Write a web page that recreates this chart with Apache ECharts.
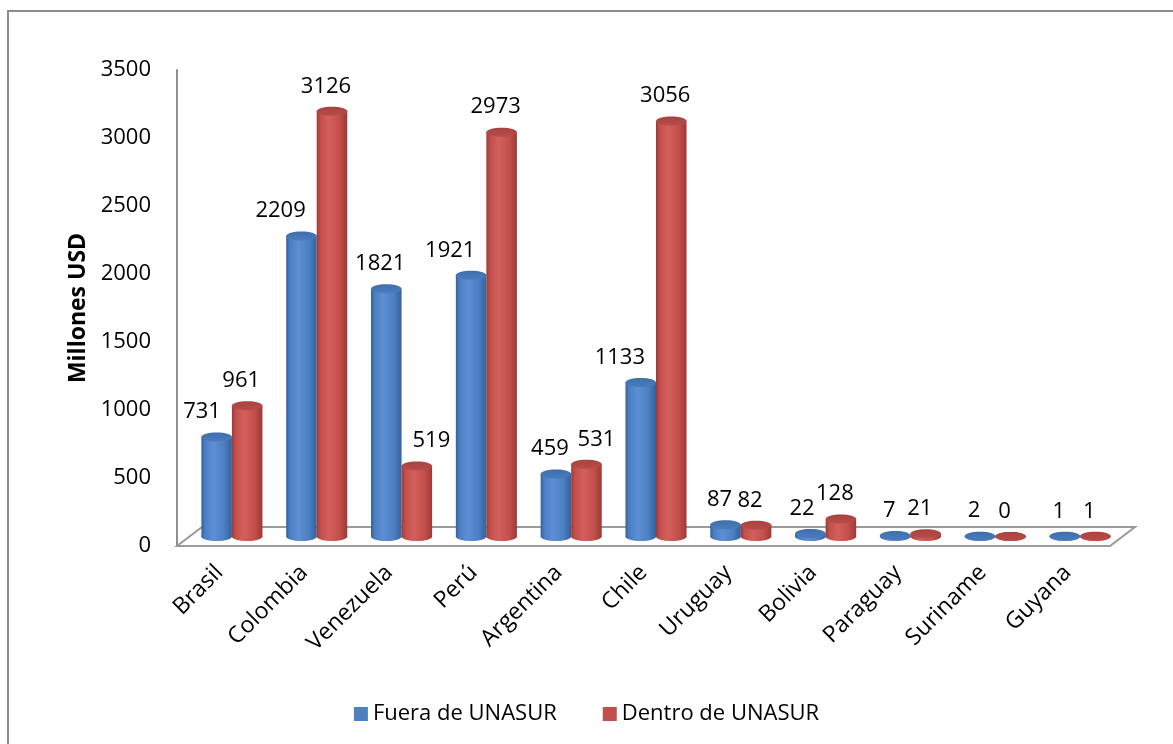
<!DOCTYPE html>
<html>
<head>
<meta charset="utf-8">
<script src="https://cdn.jsdelivr.net/npm/echarts@6/dist/echarts.min.js"></script>
<style>
  html, body { margin: 0; padding: 0; background: #fff; }
  #chart { width: 1173px; height: 744px; }
</style>
</head>
<body>
<div id="chart"></div>
<script>
// Inversión por país, millones de USD
const countries = ['Brasil', 'Colombia', 'Venezuela', 'Perú', 'Argentina', 'Chile',
                   'Uruguay', 'Bolivia', 'Paraguay', 'Suriname', 'Guyana'];
const fueraUnasur  = [731, 2209, 1821, 1921, 459, 1133, 87, 22, 7, 2, 1];
const dentroUnasur = [961, 3126, 519, 2973, 531, 3056, 82, 128, 21, 0, 1];
const seriesNames = ['Fuera de UNASUR', 'Dentro de UNASUR'];
const yMin = 0, yMax = 3500, yInterval = 500;
const yTitle = 'Millones USD';

// ---- drawing constants ----
const FONT = '"Open Sans", "Noto Sans", sans-serif';
const LABEL_SIZE = 22;
const BAR_RATIO = 0.36;      // width of one cylinder relative to the category band
const CAP_RY = 4.5;          // half height of the elliptical caps
const LABEL_DY = 25;         // label centre above the top cap
const LABEL_DX = -6;         // perspective shift of labels
const LABEL_GAP = 11;        // clearance when a label is pushed aside
const DEPTH_X = 25, DEPTH_Y = -19; // floor depth
const values = [fueraUnasur, dentroUnasur];
const seriesColors = ['#4f81bd', '#c0504d'];

const palettes = [
  { dark: '#33619c', light: '#5c8fd4', mid: '#4c7ec2', top: ['#3f6eab', '#4a7cbd'] },
  { dark: '#9c3936', light: '#d4605c', mid: '#c24f4b', top: ['#a9423f', '#b84d49'] }
];

const measureCtx = document.createElement('canvas').getContext('2d');
function textWidth(t) {
  measureCtx.font = LABEL_SIZE + 'px ' + FONT;
  return measureCtx.measureText(t).width;
}

// Label placement for one category: default above each cylinder,
// pushed sideways when it would run into the neighbouring cylinder or label.
function labelPositions(api, i) {
  const band = api.size([1, 0])[0];
  const bw = band * BAR_RATIO;
  const base = api.coord([i, 0]);
  const cBlue = base[0] - bw / 2, cRed = base[0] + bw / 2;
  const vb = fueraUnasur[i], vr = dentroUnasur[i];
  const tb = api.coord([i, vb])[1], tr = api.coord([i, vr])[1];
  const wb = textWidth(String(vb)), wr = textWidth(String(vr));
  const h = LABEL_SIZE;
  let xb = cBlue + LABEL_DX, yb = tb - LABEL_DY;
  let xr = cRed + LABEL_DX, yr = tr - LABEL_DY;
  // blue label against the red cylinder
  if (tr < yb + h / 2 && xb + wb / 2 > cRed - bw / 2 - LABEL_GAP) {
    xb = cRed - bw / 2 - LABEL_GAP - wb / 2;
  }
  // red label against the blue cylinder
  if (tb < yr + h / 2 && xr - wr / 2 < cBlue + bw / 2 + LABEL_GAP) {
    xr = cBlue + bw / 2 + LABEL_GAP + wr / 2;
  }
  // red label against the blue label
  if (Math.abs(yr - yb) < h && xr - wr / 2 < xb + wb / 2) {
    xr = xb + wb / 2 + LABEL_GAP * 0.8 + wr / 2;
  }
  return [[xb, yb], [xr, yr]];
}

function cylinderRenderer(s) {
  const p = palettes[s];
  return function (params, api) {
    const i = api.value(0);
    const v = api.value(1);
    const band = api.size([1, 0])[0];
    const bw = band * BAR_RATIO;
    const base = api.coord([i, 0]);
    const cx = base[0] + (s === 0 ? -bw / 2 : bw / 2);
    const yBase = base[1];
    const yTop = api.coord([i, v])[1];
    const bodyFill = new echarts.graphic.LinearGradient(0, 0, 1, 0, [
      { offset: 0, color: p.dark },
      { offset: 0.12, color: p.mid },
      { offset: 0.4, color: p.light },
      { offset: 0.75, color: p.mid },
      { offset: 1, color: p.dark }
    ]);
    const topFill = new echarts.graphic.LinearGradient(0, 0, 0, 1, [
      { offset: 0, color: p.top[0] },
      { offset: 1, color: p.top[1] }
    ]);
    const lp = labelPositions(api, i)[s];
    return {
      type: 'group',
      children: [
        { type: 'ellipse', shape: { cx: cx, cy: yBase, rx: bw / 2, ry: CAP_RY }, style: { fill: bodyFill } },
        { type: 'rect', shape: { x: cx - bw / 2, y: yTop, width: bw, height: Math.max(0, yBase - yTop) }, style: { fill: bodyFill } },
        { type: 'ellipse', shape: { cx: cx, cy: yTop, rx: bw / 2, ry: CAP_RY }, style: { fill: topFill } },
        {
          type: 'text', x: lp[0], y: lp[1], z2: 10,
          style: {
            text: String(v), fill: '#000', fontSize: LABEL_SIZE, fontFamily: FONT,
            align: 'center', verticalAlign: 'middle'
          }
        }
      ]
    };
  };
}

// Floor of the plot drawn as a parallelogram under the cylinders
function floorRenderer(params, api) {
  const band = api.size([1, 0])[0];
  const first = api.coord([0, 0]);
  const last = api.coord([countries.length - 1, 0]);
  const x0 = first[0] - band / 2, x1 = last[0] + band / 2, y = first[1];
  return {
    type: 'polygon',
    shape: { points: [[x0, y], [x1, y], [x1 + DEPTH_X, y + DEPTH_Y], [x0 + DEPTH_X, y + DEPTH_Y]] },
    style: { fill: '#fff', stroke: '#9a9a9a', lineWidth: 2 }
  };
}

const chart = echarts.init(document.getElementById('chart'), null, { renderer: 'canvas' });

chart.setOption({
  backgroundColor: '#fff',
  animation: false,
  textStyle: { fontFamily: FONT },
  graphic: [{
    type: 'rect', z: -10,
    shape: { x: 8, y: 11, width: 1400, height: 1000 },
    style: { fill: 'none', stroke: '#8c8c8c', lineWidth: 2 }
  }],
  grid: [
    { left: 177, right: 63, top: 70, bottom: 198 },
    { left: 177 + DEPTH_X / 2, right: 63 - DEPTH_X / 2, top: 70 + DEPTH_Y / 2, bottom: 198 - DEPTH_Y / 2 }
  ],
  xAxis: [
    {
      gridIndex: 0, type: 'category', data: countries,
      axisLine: { show: false }, axisTick: { show: false },
      axisLabel: { rotate: 45, margin: 23, fontSize: 23, color: '#000', fontFamily: FONT, interval: 0 }
    },
    {
      gridIndex: 1, type: 'category', data: countries, show: false
    }
  ],
  yAxis: [
    {
      gridIndex: 0, type: 'value', min: yMin, max: yMax, interval: yInterval,
      axisLine: { show: true, lineStyle: { color: '#8f8f8f', width: 2 } },
      axisTick: { show: false }, splitLine: { show: false },
      axisLabel: { fontSize: 22, color: '#000', margin: 26, fontFamily: FONT, formatter: (v) => String(v) },
      name: yTitle, nameLocation: 'middle', nameGap: 86, nameRotate: 90,
      nameTextStyle: { fontSize: 23, fontWeight: 'bold', color: '#000', fontFamily: FONT }
    },
    {
      gridIndex: 1, type: 'value', min: yMin, max: yMax, interval: yInterval, show: false
    }
  ],
  legend: {
    data: seriesNames, bottom: 14, left: 'center', icon: 'rect',
    itemWidth: 14, itemHeight: 14, itemGap: 46,
    textStyle: { fontSize: 22, color: '#000', fontFamily: FONT }
  },
  series: [
    {
      type: 'custom', name: 'floor', xAxisIndex: 0, yAxisIndex: 0, z: 1,
      renderItem: floorRenderer, data: [[0, 0]], silent: true
    },
    ...seriesNames.map((name, s) => ({
      type: 'custom', name: name, xAxisIndex: 1, yAxisIndex: 1, z: 2 + s,
      encode: { x: 0, y: 1 },
      itemStyle: { color: seriesColors[s] },
      renderItem: cylinderRenderer(s),
      data: values[s].map((v, i) => [i, v])
    }))
  ]
});
</script>
</body>
</html>
